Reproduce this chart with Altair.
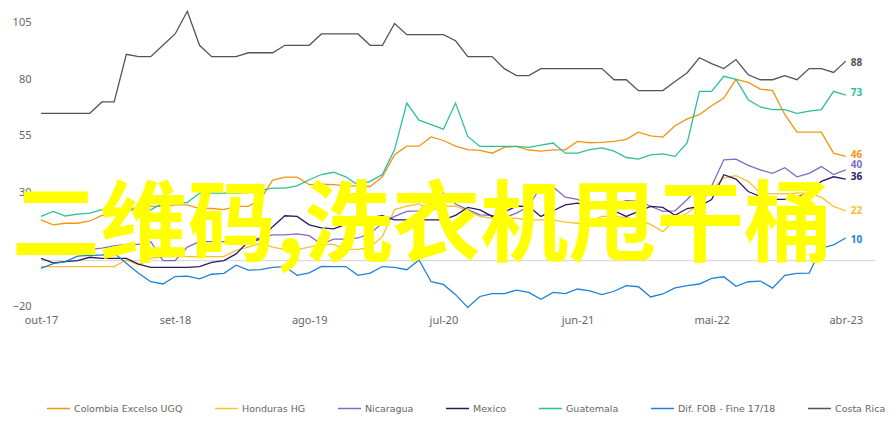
import altair as alt
import pandas as pd

# month index 0 = out-17 ... 66 = abr-23
tick_labels = ["out-17", "set-18", "ago-19", "jul-20", "jun-21", "mai-22", "abr-23"]
tick_months = [0, 11, 22, 33, 44, 55, 66]

series_names = ["Colombia Excelso UGQ", "Honduras HG", "Nicaragua", "Mexico",
                "Guatemala", "Dif. FOB - Fine 17/18", "Costa Rica"]
series_colors = ["#f39512", "#fbc02d", "#7f6cc6", "#2b1a63", "#2dbf9a", "#1f80d6", "#555555"]

colombia = [18, 15.8, 16.5, 16.5, 17.5, 20, 21, 22, 23.9, 23.9, 24, 24.6, 24.6, 23, 23, 22.5,
            23.9, 23.9, 27, 35.5, 36.8, 36.8, 33.5, 33.7, 33.5, 33, 33, 32.7, 37, 46.7, 50.5,
            50.5, 54.6, 53, 50.5, 49, 48.6, 47.4, 50, 50.4, 48.8, 48.3, 48.9, 48.9, 52.6, 52,
            52.2, 52.6, 53.5, 56.7, 55, 54.5, 59.5, 62.5, 64.4, 68.3, 71.7, 80, 78.6, 75.7, 75,
            64.5, 56.7, 56.7, 56.7, 47.4, 46]
honduras = [-2.6, -2.6, -2.6, -2.6, -2.6, -2.6, -2.6, 0.3, -1.9, 1, 1.8, 1.8, 1.8, 1.8, 1.8,
            1.8, 4.5, 6, 7.7, 6, 4.9, 4.9, 6, 7.2, 7.2, 5, 5, 6, 10.6, 22.5, 24, 25, 22, 24, 24,
            22, 19.5, 18.7, 18.7, 18.7, 18, 18, 18, 17, 16.5, 17, 19.5, 19.5, 19, 18, 16, 12.8,
            18, 21, 25, 31.2, 36.5, 37.5, 35, 29.8, 29.5, 29.5, 29.8, 29.8, 28, 23.9, 22]
nicaragua = [4, 4.5, 5, 5, 5, 5.5, 6.5, 7.2, 7.2, 8.4, 0, 0, 6, 8.4, 8.4, 8.4, 8.4, 9, 10,
             11.4, 11.4, 11.8, 11, 7.2, 9.5, 9.5, 10, 12, 16.5, 19.5, 21.7, 22, 27, 29.8, 25,
             22.5, 20.2, 20, 19, 21, 24, 32.7, 32.5, 28, 27, 25, 25, 25, 26.5, 26.1, 24, 21.7,
             22, 27, 32.7, 32.9, 44.5, 44.8, 42, 40, 38.5, 41, 37, 38.5, 41.5, 38, 40]
mexico = [1, -1, -0.4, 0, 1.5, 1, 1, 1, -1.5, -3, -3, -3, -3, -2.6, -0.8, 0, 3, 8.4, 9.4, 15,
          19.8, 19.5, 15.8, 14.5, 14, 16, 18, 19, 19.8, 18, 18, 18, 18, 18, 20, 23.5, 22.4,
          19.5, 21.5, 24, 23.9, 19.5, 22, 24.6, 25.4, 24, 23.9, 22, 19.5, 21.7, 23.9, 23.5, 20,
          23, 23.9, 27, 37.9, 36, 30.5, 28.3, 27, 27, 28, 30, 35, 37, 36]
guatemala = [19.5, 21.7, 19.7, 20.5, 21, 22.5, 22.4, 22.4, 22.4, 22.4, 25.4, 25.6, 25.6, 29.8,
             29.8, 29.8, 29.8, 30, 31, 32, 32, 33, 35.7, 38, 39, 37, 33.4, 35, 38, 49, 69.5, 62,
             60, 58, 69.5, 54.8, 50.4, 50.4, 50.4, 50.4, 50, 51, 51.9, 47.4, 47.4, 49, 49.7, 48.3,
             45.5, 44.8, 46.7, 47.1, 46, 52, 74.7, 74.7, 81.3, 80, 71, 67.8, 66.6, 66.6, 65, 66,
             66.6, 74.7, 73]
dif_fob = [-3.4, -1.3, -0.4, 2, 2.3, 2.5, 3.3, -1.1, -5.6, -9.3, -10.3, -7, -6.8, -8, -6, -5.6,
           -2, -4.2, -4, -3, -2.6, -6.5, -5.4, -2.5, -2.6, -2.6, -6.5, -5.5, -2.6, -3, -4, 0.3,
           -9.3, -10.5, -15, -20.6, -15.8, -14.5, -14.5, -13, -14, -17, -14, -14.5, -12.5, -13.3,
           -15, -13.5, -11, -11.5, -16, -14.7, -12, -11, -10.3, -7.8, -7.1, -11.3, -9.3, -9,
           -12.1, -6.5, -5.6, -5.5, 5.5, 7, 10]
costa_rica = [65, 65, 65, 65, 65, 70, 70, 91, 90, 90, 95, 100, 110, 95, 90, 90, 90, 91.7, 91.7,
              91.7, 95, 95, 95, 100, 100, 100, 100, 95, 95, 104.6, 99.7, 99.7, 99.7, 99.7, 97, 90,
              90, 90, 84.7, 81.6, 81.6, 84.7, 84.7, 84.7, 84.7, 84.7, 84.7, 79.8, 79.8, 75, 75, 75,
              79, 82.9, 89.5, 86.9, 84.7, 88.7, 82, 79.8, 79.8, 81.6, 79.8, 84.7, 84.7, 83, 88]

label_nudge = [0.5, 0, 2.2, 1, 1, -1, -1]
overlay_text = "二维码,洗衣机甩干桶"

all_series = [colombia, honduras, nicaragua, mexico, guatemala, dif_fob, costa_rica]
rows = []
for name, vals in zip(series_names, all_series):
    for m, v in enumerate(vals):
        rows.append({"month": m, "value": v, "series": name})
df = pd.DataFrame(rows)

end_rows = []
for name, vals, nudge in zip(series_names, all_series, label_nudge):
    end_rows.append({"month": len(vals) - 1, "ypos": vals[-1] + nudge,
                     "label": str(int(round(vals[-1]))), "series": name})
df_end = pd.DataFrame(end_rows)

FONT = "Noto Sans"
LEGEND_FONT = "DejaVu Sans"
label_expr = "[" + ",".join("'%s'" % t for t in tick_labels) + "][round(datum.value/11)]"

x_scale = alt.Scale(domain=[0, 68.4], nice=False, zero=False)
y_scale = alt.Scale(domain=[-20, 111], nice=False, zero=False)
color_scale = alt.Scale(domain=series_names, range=series_colors)

lines = alt.Chart(df).mark_line(strokeWidth=1.3).encode(
    x=alt.X("month:Q", scale=x_scale, title=None,
            axis=alt.Axis(values=tick_months, labelExpr=label_expr, grid=False, domain=False,
                          ticks=False, labelPadding=8, labelFontSize=11, labelColor="#666666",
                          labelFont=FONT, labelFlush=False)),
    y=alt.Y("value:Q", scale=y_scale, title=None,
            axis=alt.Axis(values=[-20, 5, 30, 55, 80, 105], grid=False, domain=False,
                          ticks=False, labelPadding=10, labelFontSize=11, labelColor="#666666",
                          labelFont=FONT)),
    color=alt.Color("series:N", scale=color_scale, sort=series_names,
                    legend=alt.Legend(title=None, orient="none", direction="horizontal",
                                      columns=7, legendX=5, legendY=387, padding=0,
                                      symbolType="stroke", symbolSize=529,
                                      symbolStrokeWidth=1.5, labelOffset=3,
                                      columnPadding=29, labelFontSize=9.5,
                                      labelColor="#666666", labelFont=LEGEND_FONT)),
)

zero = alt.Chart(pd.DataFrame({"v": [0]})).mark_rule(color="#d4d4d4", strokeWidth=1).encode(
    y=alt.Y("v:Q", scale=y_scale)
)

ends = alt.Chart(df_end).mark_text(align="left", baseline="middle", dx=5, fontSize=10,
                                   fontWeight="bold", font=FONT).encode(
    x=alt.X("month:Q", scale=x_scale),
    y=alt.Y("ypos:Q", scale=y_scale),
    text="label:N",
    color=alt.Color("series:N", scale=color_scale, legend=None),
)

overlay = alt.Chart(pd.DataFrame({"t": [overlay_text]})).mark_text(
    font="Noto Sans CJK SC", fontWeight="bold", fontSize=88, color="#ffff00",
    align="center", baseline="middle"
).encode(x=alt.value(381), y=alt.value(219), text="t:N")

chart = alt.layer(zero, lines, ends, overlay).properties(
    width=834, height=297, autosize="none",
    padding={"left": 33, "top": 1, "right": 13, "bottom": 109},
).configure_view(stroke=None)

chart.save("out.html", embed_options={"renderer": "svg", "actions": False})
